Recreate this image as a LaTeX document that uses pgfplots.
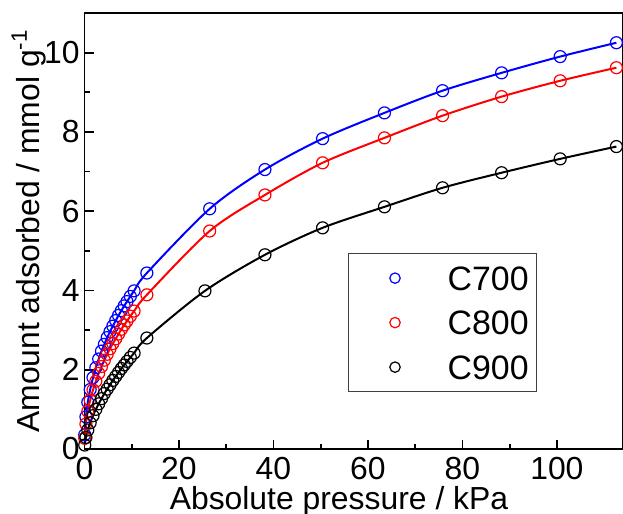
\documentclass[border=0pt]{standalone}
\usepackage{fontspec}
\setmainfont{Liberation Sans}
\usepackage{pgfplots}
\pgfplotsset{compat=1.18}
\usepackage{pgfplotstable}

\pgfplotstableread{
x y
0.05 0.36
0.3 0.81
0.7 1.18
1.2 1.50
1.8 1.80
2.4 2.05
3.0 2.27
3.6 2.47
4.2 2.64
4.8 2.81
5.4 2.96
6.0 3.10
6.6 3.24
7.2 3.37
7.8 3.49
8.4 3.61
9.0 3.72
9.7 3.85
10.5 3.99
13.2 4.44
26.5 6.06
38.2 7.05
50.4 7.83
63.5 8.48
75.8 9.04
88.3 9.49
100.7 9.90
112.6 10.25
}\dataA

\pgfplotstableread{
x y
0.05 0.27
0.3 0.63
0.7 0.95
1.2 1.23
1.8 1.49
2.4 1.71
3.0 1.91
3.6 2.08
4.2 2.24
4.8 2.39
5.4 2.53
6.0 2.66
6.6 2.78
7.2 2.90
7.8 3.02
8.4 3.13
9.0 3.23
9.7 3.35
10.5 3.48
13.2 3.89
26.5 5.50
38.2 6.41
50.4 7.22
63.5 7.85
75.8 8.41
88.3 8.89
100.7 9.29
112.6 9.62
}\dataB

\pgfplotstableread{
x y
0.05 0.10
0.3 0.29
0.7 0.48
1.2 0.66
1.8 0.84
2.4 1.00
3.0 1.14
3.6 1.27
4.2 1.40
4.8 1.51
5.4 1.62
6.0 1.73
6.6 1.83
7.2 1.93
7.8 2.03
8.4 2.12
9.0 2.21
9.7 2.31
10.5 2.42
13.2 2.80
25.5 3.99
38.2 4.90
50.4 5.58
63.5 6.11
75.8 6.59
88.3 6.97
100.7 7.32
112.6 7.63
}\dataC

\begin{document}
\begin{tikzpicture}
\begin{axis}[
  scale only axis, width=269.25bp, height=218bp,
  xmin=0, xmax=114, ymin=0, ymax=11,
  xtick={0,20,...,100}, ytick={0,2,...,10},
  minor x tick num=1, minor y tick num=1,
  tick pos=left, tick align=inside,
  major tick length=4.5bp, minor tick length=2.5bp,
  axis line style={line width=0.9bp},
  every tick/.style={black, line width=0.9bp},
  font=\fontsize{16}{19}\selectfont,
  /pgf/number format/assume math mode=true,
  xticklabel style={inner sep=0pt, yshift=-4bp},
  yticklabel style={inner sep=0pt, xshift=-2.25bp},
  xlabel={Absolute pressure / kPa},
  ylabel={Amount adsorbed / mmol g\textsuperscript{-1}},
  xlabel style={at={(axis description cs:0.4726,-0.138)}, anchor=base},
  ylabel style={at={(axis description cs:-0.084,0.5)}, anchor=base, rotate=0},
  legend style={at={(axis description cs:0.489,0.4495)}, anchor=north west,
    draw=black!75, line width=0.6bp, inner xsep=3.75bp, inner ysep=6.25bp,
    row sep=10.25bp, font=\fontsize{17}{20}\selectfont,
    nodes={inner sep=0pt, text height=12bp, text depth=0pt}, fill=white},
  legend cell align=left,
  legend image code/.code={\path (-19.25bp,0) (26bp,0); \draw[#1, mark size=2.6bp] plot coordinates {(0,0)};},
]
\addplot[blue, line width=1bp, smooth, forget plot] table {\dataA};
\addplot[red, line width=1bp, smooth, forget plot] table {\dataB};
\addplot[black, line width=1bp, smooth, forget plot] table {\dataC};
\addplot[blue, only marks, mark=o, mark size=3bp, mark options={line width=0.6bp}] table {\dataA};
\addlegendentry{C700}
\addplot[red, only marks, mark=o, mark size=3bp, mark options={line width=0.6bp}] table {\dataB};
\addlegendentry{C800}
\addplot[black, only marks, mark=o, mark size=3bp, mark options={line width=0.6bp}] table {\dataC};
\addlegendentry{C900}
\end{axis}
\pgfresetboundingbox
\path[use as bounding box] ([shift={(-42.25bp,-32.5bp)}]current axis.south west) rectangle ([shift={(0bp,6.5bp)}]current axis.north east);
\end{tikzpicture}
\end{document}
